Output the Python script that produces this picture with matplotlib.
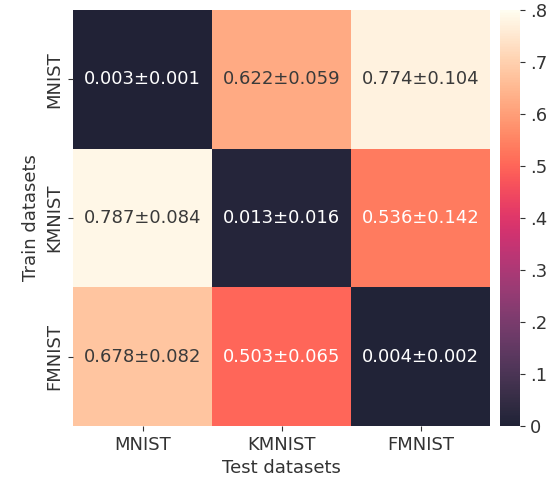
import numpy as np
import matplotlib
matplotlib.use("Agg")
import matplotlib.pyplot as plt
import seaborn as sns
from matplotlib.colors import ListedColormap
from matplotlib.ticker import FuncFormatter

datasets = ["MNIST", "KMNIST", "FMNIST"]
mean = np.array([[0.003, 0.622, 0.774],
                 [0.787, 0.013, 0.536],
                 [0.678, 0.503, 0.004]])
std = np.array([[0.001, 0.059, 0.104],
                [0.084, 0.016, 0.142],
                [0.082, 0.065, 0.002]])

labels = np.array([[f"{m:.3f}±{s:.3f}" for m, s in zip(mr, sr)]
                   for mr, sr in zip(mean, std)])

# brightened rocket palette
rocket = np.array(sns.color_palette("rocket", 256))
cmap = ListedColormap(np.clip(rocket * 0.95 + 30 / 255, 0, 1))

txt = "#333333"
plt.rcParams.update({"font.size": 13, "text.color": txt,
                     "axes.labelcolor": txt, "xtick.color": txt,
                     "ytick.color": txt})

fig = plt.figure(figsize=(5.56, 4.88), dpi=100)
ax = fig.add_axes([73 / 556, 62 / 488, 417 / 556, 416 / 488])
cax = fig.add_axes([500 / 556, 62 / 488, 20 / 556, 416 / 488])

sns.heatmap(mean, annot=labels, fmt="", cmap=cmap, vmin=0, vmax=0.8,
            ax=ax, cbar_ax=cax, xticklabels=datasets, yticklabels=datasets,
            annot_kws={"size": 13})

for t in ax.texts:
    if t.get_color() != "w" and t.get_color() != "white":
        t.set_color("#3a3a3a")

# drop the leading zero on colorbar labels
cax.yaxis.set_major_formatter(
    FuncFormatter(lambda v, p: "0" if abs(v) < 1e-9 else f"{v:.1f}".lstrip("0")))
cax.tick_params(labelsize=13, colors=txt)

ax.set_xlabel("Test datasets", fontsize=13)
ax.set_ylabel("Train datasets", fontsize=13)
ax.tick_params(labelsize=13, colors=txt)

fig.savefig("out.png", dpi=100)
